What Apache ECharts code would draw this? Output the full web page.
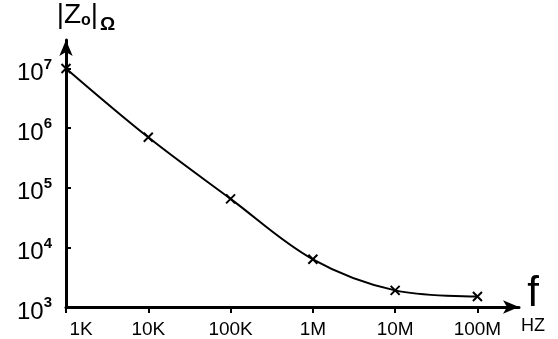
<!DOCTYPE html>
<html><head><meta charset="utf-8">
<script src="https://cdn.jsdelivr.net/npm/echarts@6/dist/echarts.min.js"></script>
<style>html,body{margin:0;padding:0;background:#fff}#c{width:558px;height:339px}</style>
</head><body><div id="c"></div>
<script>
// Data
var freqHz = [1e3, 1e4, 1e5, 1e6, 1e7, 1e8];
var impedanceOhm = [1e7, 7e5, 6.5e4, 6.3e3, 1.9e3, 1.5e3];
var xTickValues = [1e3, 1e4, 1e5, 1e6, 1e7, 1e8];
var xTickLabels = ['1K', '10K', '100K', '1M', '10M', '100M'];
var yTickValues = [1e3, 1e4, 1e5, 1e6, 1e7];
var yTickExponents = ['3', '4', '5', '6', '7'];

var FONT = 'Liberation Sans';
var chart = echarts.init(document.getElementById('c'), null, {renderer: 'canvas'});
var pts = freqHz.map(function (f, i) { return [f, impedanceOhm[i]]; });

chart.setOption({
  animation: false,
  backgroundColor: '#fff',
  grid: {left: 66, right: 39, top: 40, bottom: 32, containLabel: false},
  xAxis: {
    type: 'log', logBase: 10, min: 1e3, max: 3.2e8,
    name: '{f|f}\n{hz|HZ}', nameLocation: 'end', nameGap: 2,
    nameTextStyle: {rich: {
      f: {fontSize: 42, fontFamily: FONT, color: '#000', lineHeight: 38, align: 'center'},
      hz: {fontSize: 18, fontFamily: FONT, color: '#000', lineHeight: 26, align: 'center'}
    }},
    axisLine: {show: true, lineStyle: {color: '#000', width: 3}, symbol: ['none', 'arrow'], symbolSize: [10, 16]},
    axisTick: {show: true, length: 6, lineStyle: {color: '#000', width: 2}, customValues: xTickValues},
    axisLabel: {
      customValues: xTickValues,
      color: '#000', fontSize: 19, fontFamily: FONT, margin: 13,
      formatter: function (v) {
        var i = Math.round(Math.log10(v)) - 3;
        return (i === 0 ? '{p|' : '{n|') + (xTickLabels[i] || '') + '}';
      },
      rich: {
        n: {fontSize: 19, fontFamily: FONT, color: '#000'},
        p: {fontSize: 19, fontFamily: FONT, color: '#000', padding: [0, 0, 0, 30]}
      }
    },
    splitLine: {show: false}
  },
  yAxis: {
    type: 'log', logBase: 10, min: 1e3, max: 3e7,
    name: '{a||Z}{o|o}{a||}{w|Ω}', nameLocation: 'end', nameGap: 6,
    nameTextStyle: {padding: [0, 0, 0, 40], rich: {
      a: {fontSize: 28, fontFamily: FONT, color: '#000'},
      o: {fontSize: 16, fontFamily: FONT, fontWeight: 'bold', color: '#000', padding: [10, 0, 0, 0]},
      w: {fontSize: 19, fontFamily: FONT, fontWeight: 'bold', color: '#000', padding: [18, 0, 0, 2]}
    }},
    axisLine: {show: true, lineStyle: {color: '#000', width: 3}, symbol: ['none', 'arrow'], symbolSize: [10, 16]},
    axisTick: {show: true, inside: true, length: 5, lineStyle: {color: '#000', width: 2}, customValues: yTickValues},
    axisLabel: {
      customValues: yTickValues,
      color: '#000', margin: 14,
      formatter: function (v) { var i = Math.round(Math.log10(v)) - 3; return '{b|10}{s|' + yTickExponents[i] + '}'; },
      rich: {
        b: {fontSize: 24, fontFamily: FONT, color: '#000', padding: [10, 0, 0, 0]},
        s: {fontSize: 15, fontFamily: FONT, fontWeight: 'bold', color: '#000', padding: [0, 0, 8, 0]}
      }
    },
    splitLine: {show: false}
  },
  series: [{
    type: 'line', data: pts, smooth: 0.35,
    lineStyle: {color: '#000', width: 2},
    symbol: 'path://M0,0L10,10M10,0L0,10', symbolSize: 9,
    itemStyle: {color: 'none', borderColor: '#000', borderWidth: 2}
  }]
});
</script></body></html>
